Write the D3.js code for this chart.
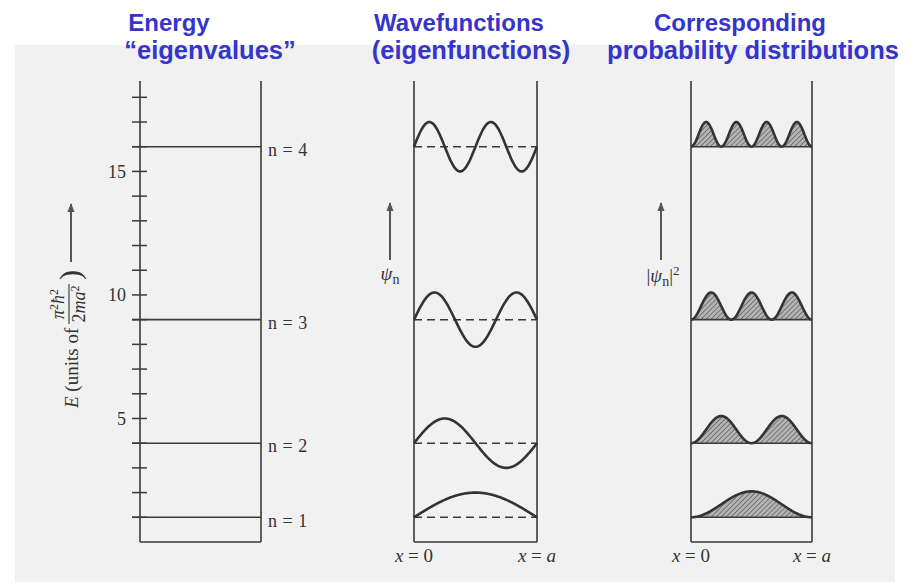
<!DOCTYPE html>
<html>
<head>
<meta charset="utf-8">
<script src="https://cdn.jsdelivr.net/npm/d3@7"></script>
<style>
  html, body { margin: 0; padding: 0; background: #ffffff; }
  svg { display: block; }
</style>
</head>
<body>
<svg id="chart" width="909" height="587"></svg>
<script>
// ---------------- data ----------------
const levelN = [1, 2, 3, 4];
const levelEnergy = [1, 4, 9, 16];                 // E in units of pi^2 hbar^2 / 2 m a^2
const levelLabels = ["n = 1", "n = 2", "n = 3", "n = 4"];
const energyTicks = [1, 2, 3, 4, 5, 6, 7, 8, 9, 10, 11, 12, 13, 14, 15, 16, 17, 18];
const energyTickLabels = [5, 10, 15];
const psiAmplitude = [1.0, 1.0, 1.1, 1.0];          // drawn amplitude (energy units)
const probAmplitude = [1.05, 1.1, 1.1, 1.0];
const titleLines = [
  ["Energy", "\u201ceigenvalues\u201d"],
  ["Wavefunctions", "(eigenfunctions)"],
  ["Corresponding", "probability distributions"]
];
const xEndLabels = ["x = 0", "x = a"];

// ---------------- setup ----------------
const svg = d3.select("#chart");
const ink = "#3a3a3a";
const serif = "'Liberation Serif', 'DejaVu Serif', serif";

// scanned page background
svg.append("rect").attr("x", 15).attr("y", 45).attr("width", 880).attr("height", 537)
  .attr("fill", "#f1f1f1");

const defs = svg.append("defs");
const pat = defs.append("pattern").attr("id", "hatch").attr("patternUnits", "userSpaceOnUse")
  .attr("width", 3.5).attr("height", 3.5).attr("patternTransform", "rotate(45)");
pat.append("rect").attr("width", 3.5).attr("height", 3.5).attr("fill", "#b4b4b4");
pat.append("line").attr("x1", 0).attr("y1", 0).attr("x2", 0).attr("y2", 3.5)
  .attr("stroke", "#666").attr("stroke-width", 1.6);
defs.append("marker").attr("id", "arrow").attr("viewBox", "0 0 10 10")
  .attr("refX", 9).attr("refY", 5).attr("markerWidth", 4.5).attr("markerHeight", 6)
  .attr("markerUnits", "strokeWidth").attr("orient", "auto")
  .append("path").attr("d", "M0,1 L10,5 L0,9 Z").attr("fill", "#555");

// shared energy scale
const y = d3.scaleLinear().domain([0, 18.66]).range([542, 81]);

// panel x scales (x from 0 to a, normalised)
const xE = d3.scaleLinear().domain([0, 1]).range([140, 261]);
const xPsi = d3.scaleLinear().domain([0, 1]).range([414, 537]);
const xProb = d3.scaleLinear().domain([0, 1]).range([691, 812]);

// ---------------- titles ----------------
const titleCenters = [[169, 210], [459, 471], [740, 753]];
titleLines.forEach((lines, i) => {
  lines.forEach((t, j) => {
    svg.append("text").attr("x", titleCenters[i][j]).attr("y", 31 + j * 28)
      .attr("text-anchor", "middle")
      .attr("font-family", "'Liberation Sans', Arial, sans-serif")
      .attr("font-weight", "bold").attr("font-size", j === 0 ? 24 : 25.5)
      .attr("fill", "#3535cc").text(t);
  });
});

// ---------------- energy panel ----------------
const gE = svg.append("g");
const axis = d3.axisLeft(y).tickValues(energyTicks).tickSize(0).tickFormat("");
const gAxis = gE.append("g").attr("transform", `translate(${xE(0)},0)`).call(axis);
gAxis.select(".domain").remove();
gE.append("line").attr("x1", xE(0)).attr("x2", xE(0)).attr("y1", y(0)).attr("y2", y.range()[1])
  .attr("stroke", ink).attr("stroke-width", 1.6);
gE.append("line").attr("x1", xE(1)).attr("x2", xE(1)).attr("y1", y(0)).attr("y2", y.range()[1])
  .attr("stroke", ink).attr("stroke-width", 1.6);
gE.append("line").attr("x1", xE(0)).attr("x2", xE(1)).attr("y1", y(0)).attr("y2", y(0))
  .attr("stroke", ink).attr("stroke-width", 1.6);
gE.selectAll("line.tick").data(energyTicks).enter().append("line").attr("class", "tick")
  .attr("x1", xE(0) - 8).attr("x2", xE(0) + 7)
  .attr("y1", d => y(d)).attr("y2", d => y(d)).attr("stroke", ink).attr("stroke-width", 1.5);
gE.selectAll("text.tl").data(energyTickLabels).enter().append("text").attr("class", "tl")
  .attr("x", xE(0) - 14).attr("y", d => y(d)).attr("dy", "0.35em")
  .attr("text-anchor", "end").attr("font-family", serif).attr("font-size", 18)
  .attr("fill", "#333").text(d => d);
gE.selectAll("line.lvl").data(levelEnergy).enter().append("line").attr("class", "lvl")
  .attr("x1", xE(0) - 8).attr("x2", xE(1))
  .attr("y1", d => y(d)).attr("y2", d => y(d)).attr("stroke", ink).attr("stroke-width", 1.6);
gE.selectAll("text.lvl").data(levelLabels).enter().append("text").attr("class", "lvl")
  .attr("x", xE(1) + 7).attr("y", (d, i) => y(levelEnergy[i]) + 3).attr("dy", "0.35em")
  .attr("font-family", serif).attr("font-size", 18).attr("word-spacing", 1)
  .attr("fill", "#333").text(d => d);

// y-axis label with arrow
gE.append("line").attr("x1", 71).attr("x2", 71).attr("y1", 262).attr("y2", 204)
  .attr("stroke", "#555").attr("stroke-width", 2).attr("marker-end", "url(#arrow)");
const lab = svg.append("g").attr("transform", "translate(78,408) rotate(-90)")
  .attr("font-family", serif).attr("fill", "#333");
lab.append("text").attr("x", 0).attr("y", 0).attr("font-size", 19)
  .html("<tspan font-style='italic'>E</tspan> (units of");
lab.append("text").attr("x", 104).attr("y", -14).attr("text-anchor", "middle").attr("font-size", 18)
  .html("<tspan font-style='italic'>\u03c0</tspan><tspan dy='-6' font-size='12'>2</tspan><tspan dy='6' font-style='italic'>\u0127</tspan><tspan dy='-6' font-size='12'>2</tspan>");
lab.append("line").attr("x1", 84).attr("x2", 124).attr("y1", -9).attr("y2", -9)
  .attr("stroke", "#333").attr("stroke-width", 1.1);
lab.append("text").attr("x", 104).attr("y", 7).attr("text-anchor", "middle").attr("font-size", 18)
  .html("<tspan>2</tspan><tspan font-style='italic'>ma</tspan><tspan dy='-6' font-size='12'>2</tspan>");
lab.append("text").attr("x", 128).attr("y", 2).attr("font-size", 30).attr("font-weight", 300).text(")");

// ---------------- wavefunction panel ----------------
const samples = d3.range(0, 1.0001, 0.005);
const gP = svg.append("g");
[xPsi, xProb].forEach(xs => {
  gP.append("line").attr("x1", xs(0)).attr("x2", xs(0)).attr("y1", y(0)).attr("y2", y.range()[1])
    .attr("stroke", ink).attr("stroke-width", 1.6);
  gP.append("line").attr("x1", xs(1)).attr("x2", xs(1)).attr("y1", y(0)).attr("y2", y.range()[1])
    .attr("stroke", ink).attr("stroke-width", 1.6);
  gP.append("line").attr("x1", xs(0)).attr("x2", xs(1)).attr("y1", y(0)).attr("y2", y(0))
    .attr("stroke", ink).attr("stroke-width", 1.6);
});
gP.selectAll("line.base").data(levelEnergy).enter().append("line").attr("class", "base")
  .attr("x1", xPsi(0)).attr("x2", xPsi(1)).attr("y1", d => y(d)).attr("y2", d => y(d))
  .attr("stroke", ink).attr("stroke-width", 1.5).attr("stroke-dasharray", "8,5");
levelN.forEach((n, i) => {
  const line = d3.line().x(t => xPsi(t))
    .y(t => y(levelEnergy[i] + psiAmplitude[i] * Math.sin(n * Math.PI * t)))
    .curve(d3.curveBasis);
  gP.append("path").datum(samples).attr("d", line).attr("fill", "none")
    .attr("stroke", "#333").attr("stroke-width", 2.6);
});
levelN.forEach((n, i) => {
  const area = d3.area().x(t => xProb(t)).y0(y(levelEnergy[i]))
    .y1(t => y(levelEnergy[i] + probAmplitude[i] * Math.pow(Math.sin(n * Math.PI * t), 2)));
  gP.append("path").datum(samples).attr("d", area).attr("fill", "url(#hatch)").attr("stroke", "none");
  gP.append("path").datum(samples).attr("d", area.lineY1()).attr("fill", "none")
    .attr("stroke", "#333").attr("stroke-width", 2.6);
  gP.append("line").attr("x1", xProb(0)).attr("x2", xProb(1))
    .attr("y1", y(levelEnergy[i])).attr("y2", y(levelEnergy[i]))
    .attr("stroke", ink).attr("stroke-width", 1.6);
});

gP.append("line").attr("x1", 390).attr("x2", 390).attr("y1", 260).attr("y2", 203)
  .attr("stroke", "#555").attr("stroke-width", 2).attr("marker-end", "url(#arrow)");
gP.append("text").attr("x", 390).attr("y", 280).attr("text-anchor", "middle")
  .attr("font-family", serif).attr("font-size", 19).attr("fill", "#333")
  .html("<tspan font-style='italic'>\u03c8</tspan><tspan dy='4' font-size='14'>n</tspan>");
gP.append("line").attr("x1", 661).attr("x2", 661).attr("y1", 260).attr("y2", 203)
  .attr("stroke", "#555").attr("stroke-width", 2).attr("marker-end", "url(#arrow)");
gP.append("text").attr("x", 663).attr("y", 282).attr("text-anchor", "middle")
  .attr("font-family", serif).attr("font-size", 19).attr("fill", "#333")
  .html("|<tspan font-style='italic'>\u03c8</tspan><tspan dy='4' font-size='14'>n</tspan><tspan dy='-4'>|</tspan><tspan dy='-7' font-size='13'>2</tspan>");

[xPsi, xProb].forEach(xs => {
  xEndLabels.forEach((t, j) => {
    svg.append("text").attr("x", xs(j)).attr("y", 562).attr("text-anchor", "middle")
      .attr("font-family", serif).attr("font-size", 19).attr("fill", "#333")
      .html("<tspan font-style='italic'>x</tspan> = " + (j === 0 ? "0" : "<tspan font-style='italic'>a</tspan>"));
  });
});
</script>
</body>
</html>
